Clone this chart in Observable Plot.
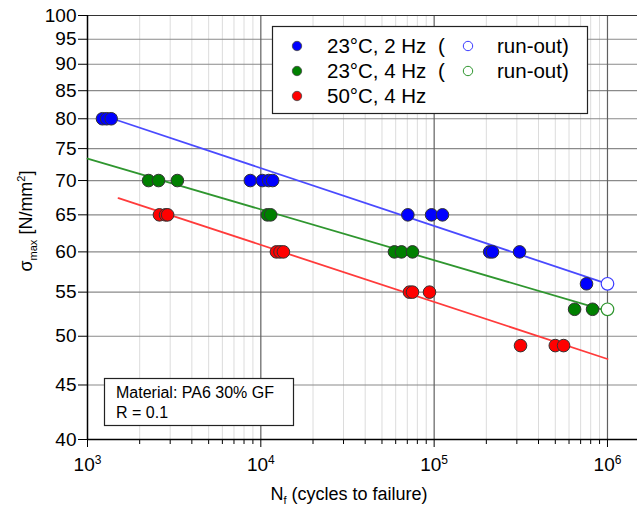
<!DOCTYPE html>
<html>
<head>
<meta charset="utf-8">
<script src="https://cdn.jsdelivr.net/npm/d3@7"></script>
<script src="https://cdn.jsdelivr.net/npm/@observablehq/plot@0.6"></script>
<style>
  html, body { margin: 0; padding: 0; background: #fff; }
  svg { display: block; }
</style>
</head>
<body>
<div id="chart"></div>
<script>
// ---- data ----
const blueN = [1220, 1290, 1370, 8700, 10200, 11100, 11700, 70500, 96600, 111700, 209000, 217000, 311000, 757000];
const blueS = [80, 80, 80, 70, 70, 70, 70, 65, 65, 65, 60, 60, 60, 56];
const blueRunN = [1000000];
const blueRunS = [56];

const greenN = [2250, 2570, 3300, 10900, 11400, 59000, 64800, 75000, 646000, 820000];
const greenS = [70, 70, 70, 65, 65, 60, 60, 60, 53, 53];
const greenRunN = [1000000];
const greenRunS = [53];

const redN = [2600, 2820, 2900, 12300, 12900, 13500, 72000, 75000, 94000, 315000, 500000, 558000];
const redS = [65, 65, 65, 60, 60, 60, 55, 55, 55, 49, 49, 49];

// fitted S-N lines (end points)
const blueFitN = [1400, 1000000];
const blueFitS = [80, 56];
const greenFitN = [1000, 1000000];
const greenFitS = [73.4, 52.8];
const redFitN = [1510, 1000000];
const redFitS = [67.4, 47.6];

const yTicks = [40, 45, 50, 55, 60, 65, 70, 75, 80, 85, 90, 95, 100];
const xDecades = [1e3, 1e4, 1e5, 1e6];
const xMinor = [1e3, 1e4, 1e5].flatMap(d => [2, 3, 4, 5, 6, 7, 8, 9].map(k => k * d));

const seriesNames = ["23°C, 2 Hz", "23°C, 4 Hz", "50°C, 4 Hz"];
const seriesColors = ["#0000ff", "#008000", "#ff0000"];
const lineColors = ["#4a4aff", "#2f962f", "#ff3b3b"];
const noteLines = ["Material: PA6 30% GF", "R = 0.1"];

const pts = (N, S) => N.map((n, i) => ({N: n, S: S[i]}));
const FONT = "Arial, 'Liberation Sans', sans-serif";

const chart = Plot.plot({
  width: 638,
  height: 509,
  marginLeft: 87,
  marginRight: 1,
  marginTop: 15,
  marginBottom: 70,
  style: {fontFamily: FONT, fontSize: "18px", background: "#fff", color: "#000"},
  x: {type: "log", domain: [1e3, 1.49e6]},
  y: {type: "log", domain: [40, 100]},
  marks: [
    Plot.ruleX(xMinor, {stroke: "#dcdcdc", strokeWidth: 1}),
    Plot.ruleY(yTicks.slice(1, -1), {stroke: "#8a8a8a", strokeWidth: 1.2}),
    Plot.ruleX(xDecades.slice(1), {stroke: "#606060", strokeWidth: 1.2}),
    Plot.ruleY([100], {stroke: "#333", strokeWidth: 1.2}),
    Plot.ruleY([40], {stroke: "#000", strokeWidth: 1.5}),
    Plot.ruleX([1e3], {stroke: "#000", strokeWidth: 1.5}),
    Plot.axisY({ticks: yTicks, tickSize: 9, tickFormat: () => "", label: null}),
    Plot.axisX({ticks: xMinor, tickSize: 5, tickFormat: () => "", label: null}),
    Plot.axisX({ticks: xDecades, tickSize: 8, tickFormat: () => "", label: null}),
    // tick labels
    Plot.text(yTicks, {y: d => d, frameAnchor: "left", dx: -11, textAnchor: "end", text: d => String(d), fontSize: 19, fill: "#000", className: "ylab"}),
    Plot.text(xDecades, {x: d => d, frameAnchor: "bottom", dy: 31, text: d => String(Math.round(Math.log10(d))), fontSize: 19, fill: "#000", className: "xlab"}),
    Plot.line(pts(blueFitN, blueFitS), {x: "N", y: "S", stroke: lineColors[0], strokeWidth: 1.8}),
    Plot.line(pts(greenFitN, greenFitS), {x: "N", y: "S", stroke: lineColors[1], strokeWidth: 1.8}),
    Plot.line(pts(redFitN, redFitS), {x: "N", y: "S", stroke: lineColors[2], strokeWidth: 1.8}),
    Plot.dot(pts(blueN, blueS), {x: "N", y: "S", r: 6.3, fill: seriesColors[0], stroke: "#333", strokeWidth: 1}),
    Plot.dot(pts(greenN, greenS), {x: "N", y: "S", r: 6.3, fill: seriesColors[1], stroke: "#333", strokeWidth: 1}),
    Plot.dot(pts(redN, redS), {x: "N", y: "S", r: 6.3, fill: seriesColors[2], stroke: "#333", strokeWidth: 1}),
    Plot.dot(pts(blueRunN, blueRunS), {x: "N", y: "S", r: 6.3, fill: "#fff", stroke: "#3b3bff", strokeWidth: 1.2}),
    Plot.dot(pts(greenRunN, greenRunS), {x: "N", y: "S", r: 6.3, fill: "#fff", stroke: "#2f962f", strokeWidth: 1.2})
  ]
});

document.getElementById("chart").appendChild(chart);
const svg = d3.select(chart);

// force font on tick label texts
svg.selectAll('.ylab text, .xlab text').style("font-size", "19px").style("font-family", FONT).style("font-variant", "normal");

// superscript exponents on x tick labels
svg.selectAll('.xlab text').each(function () {
  const t = d3.select(this);
  const e = t.text();
  if (!e) return;
  t.text("10");
  t.append("tspan").attr("dy", "-0.55em").style("font-size", "12px").text(e);
});

// y axis title
const yt = svg.append("text")
  .attr("transform", "translate(32,221) rotate(-90)")
  .attr("text-anchor", "middle")
  .style("font-size", "18px").style("font-family", FONT)
  .attr("fill", "#000");
yt.append("tspan").text("σ");
yt.append("tspan").attr("dy", 5).style("font-size", "11px").text("max");
yt.append("tspan").attr("dy", -5).text(" [N/mm");
yt.append("tspan").attr("dy", -7).style("font-size", "11px").text("2");
yt.append("tspan").attr("dy", 7).text("]");

// x axis title
const xt = svg.append("text")
  .attr("x", 349).attr("y", 500)
  .attr("text-anchor", "middle")
  .style("font-size", "18px").style("font-family", FONT)
  .attr("fill", "#000");
xt.append("tspan").text("N");
xt.append("tspan").attr("dy", 4).style("font-size", "11px").text("f");
xt.append("tspan").attr("dy", -4).text(" (cycles to failure)");

// legend
const lg = svg.append("g").attr("text-anchor", "start")
  .style("font-size", "20.5px").style("font-family", FONT).attr("fill", "#000");
lg.append("rect").attr("x", 272.5).attr("y", 26.5).attr("width", 315).attr("height", 87)
  .attr("fill", "#fff").attr("stroke", "#222").attr("stroke-width", 1.2);
seriesNames.forEach((name, i) => {
  const cy = 46 + i * 25;
  lg.append("circle").attr("cx", 297).attr("cy", cy).attr("r", 4.7)
    .attr("fill", seriesColors[i]).attr("stroke", "#444").attr("stroke-width", 0.8);
  lg.append("text").attr("x", 327).attr("y", cy + 7).text(name);
  if (i < 2) {
    lg.append("text").attr("x", 438).attr("y", cy + 7).text("(");
    lg.append("circle").attr("cx", 468).attr("cy", cy).attr("r", 4.7)
      .attr("fill", "#fff").attr("stroke", i === 0 ? "#3b3bff" : "#2f962f").attr("stroke-width", 1);
    lg.append("text").attr("x", 497).attr("y", cy + 7).text("run-out)");
  }
});

// material note
const nt = svg.append("g").attr("text-anchor", "start")
  .style("font-size", "16px").style("font-family", FONT).attr("fill", "#000");
nt.append("rect").attr("x", 104.5).attr("y", 378.5).attr("width", 189).attr("height", 47)
  .attr("fill", "#fff").attr("stroke", "#222").attr("stroke-width", 1.2);
noteLines.forEach((s, i) => nt.append("text").attr("x", 116).attr("y", 398 + i * 20).text(s));
</script>
</body>
</html>
